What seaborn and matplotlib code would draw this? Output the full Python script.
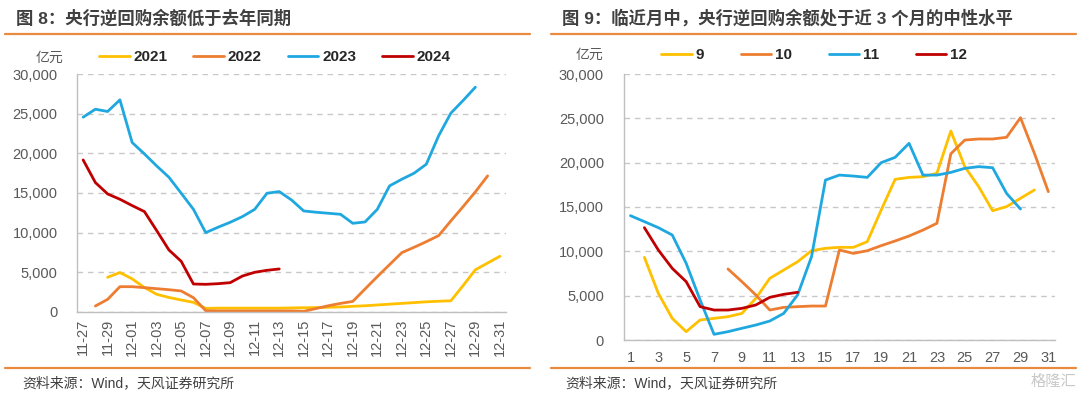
import numpy as np
import pandas as pd
import seaborn as sns
import matplotlib.pyplot as plt
from matplotlib.lines import Line2D
from matplotlib.ticker import FuncFormatter

# left chart: reverse repo balance around year end (亿元)
dates = ['11-27', '11-28', '11-29', '11-30', '12-01', '12-02', '12-03', '12-04', '12-05',
         '12-06', '12-07', '12-08', '12-09', '12-10', '12-11', '12-12', '12-13', '12-14',
         '12-15', '12-16', '12-17', '12-18', '12-19', '12-20', '12-21', '12-22', '12-23',
         '12-24', '12-25', '12-26', '12-27', '12-28', '12-29', '12-30', '12-31']
y2021 = [None, None, 4350, 4950, 4150, 3050, 2200, 1800, 1480, 1180, 420, 450, 450, 450,
         450, 450, 450, 480, 500, 520, 560, 600, 680, 750, 850, 950, 1050, 1150, 1250,
         1320, 1380, 3300, 5300, 6150, 7000]
y2022 = [None, 720, 1560, 3160, 3160, 3040, 2910, 2780, 2620, 1770, 130, 100, 100, 100,
         100, 100, 100, 100, 50, 400, 750, 1050, 1300, 2870, 4430, 5950, 7460, 8140, 8850,
         9610, 11470, 13280, 15140, 17160, None]
y2023 = [24580, 25590, 25300, 26770, 21380, 19940, 18420, 16990, 14970, 12940, 9990,
         10670, 11300, 12020, 12940, 14970, 15180, 14120, 12730, 12570, 12440, 12310,
         11170, 11340, 12940, 15900, 16740, 17500, 18640, 22220, 25090, 26690, 28370,
         None, None]
y2024 = [19180, 16320, 14880, 14210, 13410, 12650, 10250, 7800, 6370, 3500, 3460, 3540,
         3670, 4510, 4980, 5230, 5400] + [None] * 18

# right chart: balance by day of month (亿元)
days = list(range(1, 32))
m9 = [None, 9320, 5260, 2440, 940, 2260, 2440, 2630, 3000, 4700, 6950, 7890, 8830, 10070,
      10340, 10450, 10450, 11090, 14660, 18120, 18340, 18420, 18800, 23570, 19550, 17290,
      14580, 15040, 15980, 16920, None]
m10 = [None] * 7 + [8010, 6580, 5080, 3380, 3680, 3760, 3830, 3830, 10150, 9770, 10070,
                    10640, 11170, 11730, 12400, 13160, 21000, 22550, 22670, 22670, 22860,
                    25070, 21050, 16730]
m11 = [14020, 13350, 12670, 11840, 8650, 4510, 640, 940, 1320, 1690, 2140, 3000, 5080,
       9400, 18040, 18600, 18490, 18340, 20000, 20600, 22180, 18600, 18600, 18900, 19360,
       19550, 19430, 16540, 14770, None, None]
m12 = [None, 12670, 10150, 8080, 6580, 3760, 3380, 3380, 3570, 3950, 4810, 5150, 5380] + [None] * 18

yellow, orange, blue, red = '#FFC000', '#ED7D31', '#1FA8E0', '#C00000'
grey = '#595959'
rule = '#E98B3F'

sns.set_theme(style='white')
plt.rcParams['font.family'] = ['Liberation Sans', 'Noto Sans CJK SC']
plt.rcParams['axes.unicode_minus'] = False

W, H = 1080, 399
fig = plt.figure(figsize=(W / 100, H / 100), dpi=100)


def box(x0, x1, ytop, ybot):
    return [x0 / W, 1 - ybot / H, (x1 - x0) / W, (ybot - ytop) / H]


ax1 = fig.add_axes(box(77, 506, 74.3, 311.7))
ax2 = fig.add_axes(box(623.5, 1055.3, 74.0, 340.0))

left = pd.DataFrame({'2021': y2021, '2022': y2022, '2023': y2023, '2024': y2024})
left['pos'] = np.arange(len(dates))
left = left.melt(id_vars='pos', var_name='series', value_name='val').dropna()

right = pd.DataFrame({'9': m9, '10': m10, '11': m11, '12': m12})
right['day'] = days
right = right.melt(id_vars='day', var_name='series', value_name='val').dropna()

pal1 = {'2021': yellow, '2022': orange, '2023': blue, '2024': red}
pal2 = {'9': yellow, '10': orange, '11': blue, '12': red}

sns.lineplot(data=left, x='pos', y='val', hue='series', palette=pal1, estimator=None,
             errorbar=None, linewidth=2, legend=False, ax=ax1)
sns.lineplot(data=right, x='day', y='val', hue='series', palette=pal2, estimator=None,
             errorbar=None, linewidth=2, legend=False, ax=ax2)

fmt = FuncFormatter(lambda v, p: f'{int(v):,}')
for ax in (ax1, ax2):
    ax.set_ylim(0, 30000)
    ax.set_yticks(range(0, 30001, 5000))
    ax.yaxis.set_major_formatter(fmt)
    ax.yaxis.grid(True, linestyle=(0, (4, 3.5)), color='#C8C8C8', linewidth=1)
    ax.xaxis.grid(False)
    ax.set_axisbelow(True)
    for s in ('top', 'right'):
        ax.spines[s].set_visible(False)
    for s in ('left', 'bottom'):
        ax.spines[s].set_color('#BFBFBF')
        ax.spines[s].set_linewidth(1)
    ax.tick_params(axis='both', length=0, labelsize=10.5, colors=grey)
    ax.tick_params(axis='y', pad=14)
    ax.set_xlabel('')
    ax.set_ylabel('')

ax1.set_xlim(-0.5, len(dates) - 0.5)
ax1.set_xticks(np.arange(0, len(dates), 2))
ax1.set_xticklabels(dates[::2], rotation=90)
ax1.tick_params(axis='x', pad=5)

ax2.set_xlim(0.5, 31.5)
ax2.set_xticks(days[::2])
ax2.tick_params(axis='x', pad=8)

# titles and rules
fig.text(16 / W, 1 - 18 / H, '图 8：央行逆回购余额低于去年同期', fontsize=12.5,
         fontweight='bold', color='#404040', va='center', ha='left')
fig.text(562 / W, 1 - 18 / H, '图 9：临近月中，央行逆回购余额处于近 3 个月的中性水平',
         fontsize=12.5, fontweight='bold', color='#404040', va='center', ha='left')
for x0, x1 in ((5, 530), (551, 1076)):
    fig.add_artist(Line2D([x0 / W, x1 / W], [1 - 33.5 / H] * 2, color=rule, lw=1.6))
    fig.add_artist(Line2D([x0 / W, x1 / W], [1 - 368 / H] * 2, color=rule, lw=1.6))

fig.text(22 / W, 1 - 383 / H, '资料来源：Wind，天风证券研究所', fontsize=10,
         color='#404040', va='center', ha='left')
fig.text(565 / W, 1 - 383 / H, '资料来源：Wind，天风证券研究所', fontsize=10,
         color='#404040', va='center', ha='left')
fig.text(1076 / W, 1 - 382 / H, '格隆汇', fontsize=11, color='#C8C8C8',
         va='center', ha='right')

# unit labels and legends
fig.text(49 / W, 1 - 58 / H, '亿元', fontsize=10, color=grey, va='center', ha='center')
fig.text(589 / W, 1 - 55 / H, '亿元', fontsize=10, color=grey, va='center', ha='center')


def legend(names, pal, x, y, spacing):
    handles = [Line2D([], [], color=pal[n], lw=2) for n in names]
    leg = fig.legend(handles, names, loc='center left', bbox_to_anchor=(x / W, 1 - y / H),
                     ncol=len(names), frameon=False, handlelength=2.0, handletextpad=0.25,
                     columnspacing=spacing, borderaxespad=0, borderpad=0,
                     prop={'weight': 'bold', 'size': 11})
    for t in leg.get_texts():
        t.set_color('#262626')
    return leg


legend(['2021', '2022', '2023', '2024'], pal1, 99, 57, 1.7)
legend(['9', '10', '11', '12'], pal2, 661, 55, 2.4)

fig.savefig('out.png', dpi=100, facecolor='white')
